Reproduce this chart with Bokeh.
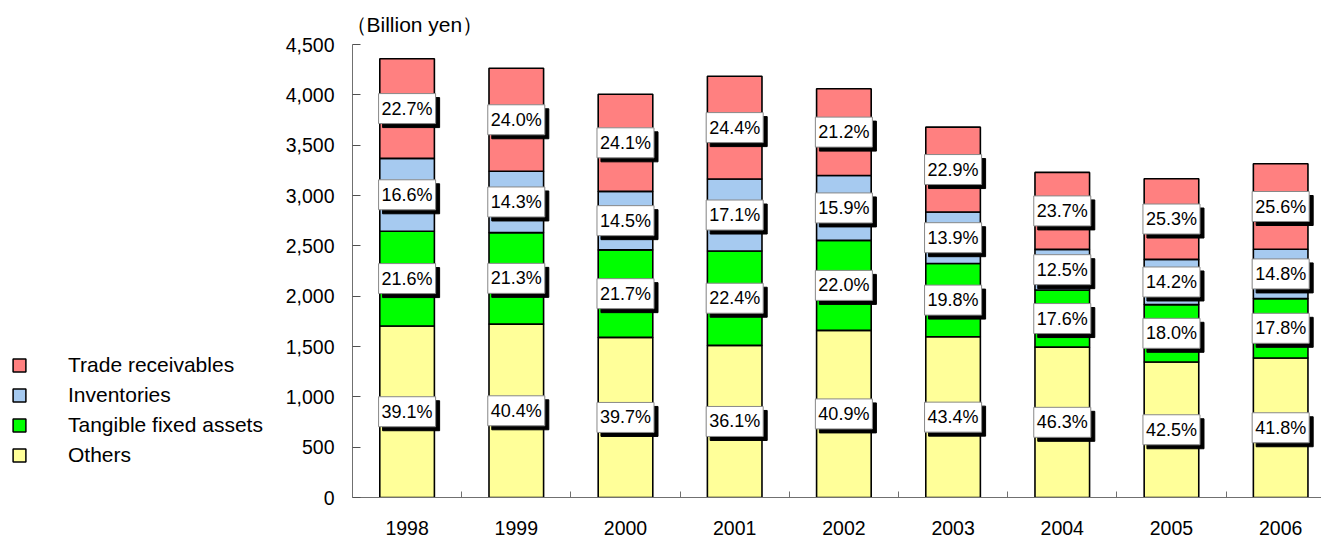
from bokeh.plotting import figure
from bokeh.layouts import row
from bokeh.models import (ColumnDataSource, Range1d, FixedTicker, NumeralTickFormatter,
                          Legend, LegendItem)
from bokeh.core.properties import value
from bokeh.embed import file_html
from bokeh.resources import INLINE

# ---- data ----
years = ["1998", "1999", "2000", "2001", "2002", "2003", "2004", "2005", "2006"]
totals = [4358, 4264, 4006, 4185, 4060, 3679, 3226, 3167, 3315]  # billion yen
others_pct = [39.1, 40.4, 39.7, 36.1, 40.9, 43.4, 46.3, 42.5, 41.8]
tangible_pct = [21.6, 21.3, 21.7, 22.4, 22.0, 19.8, 17.6, 18.0, 17.8]
inventories_pct = [16.6, 14.3, 14.5, 17.1, 15.9, 13.9, 12.5, 14.2, 14.8]
trade_pct = [22.7, 24.0, 24.1, 24.4, 21.2, 22.9, 23.7, 25.3, 25.6]

series = ["Others", "Tangible fixed assets", "Inventories", "Trade receivables"]
pcts = [others_pct, tangible_pct, inventories_pct, trade_pct]
colors = ["#FFFF99", "#00FF00", "#A6CAF0", "#FF8080"]
yticks = [0, 500, 1000, 1500, 2000, 2500, 3000, 3500, 4000, 4500]

FONT = "Liberation Sans"

xs = [i + 0.5 for i in range(len(years))]
data = {"x": xs}
for name, pct in zip(series, pcts):
    data[name] = [t * p / 100.0 for t, p in zip(totals, pct)]
source = ColumnDataSource(data)

LEG_W = 270
H = 536

p = figure(frame_width=969, frame_height=453,
           x_range=Range1d(0, len(years) - 0.126), y_range=Range1d(0, 4500),
           output_backend="svg", toolbar_location=None,
           min_border_left=352 - LEG_W, min_border_right=0, min_border_top=44,
           min_border_bottom=39,
           background_fill_color="white", border_fill_color="white")
p.outline_line_color = None
p.grid.visible = False

renderers = p.vbar_stack(series, x="x", width=0.5, source=source, color=colors,
                         line_color="black", line_width=1.6)

# percentage labels
lx, ly, lt = [], [], []
bottoms = [0.0] * len(years)
for name, pct in zip(series, pcts):
    vals = data[name]
    for i in range(len(years)):
        lx.append(xs[i])
        ly.append(bottoms[i] + vals[i] / 2.0)
        lt.append(f"{pct[i]:.1f}%")
        bottoms[i] += vals[i]
lsrc = ColumnDataSource(dict(x=lx, y=ly, t=lt))

pad = dict(left=3, right=3, top=5, bottom=5)
p.text(x="x", y="y", text="t", source=lsrc, x_offset=4, y_offset=4,
       text_align="center", text_baseline="middle",
       text_font=value(FONT), text_font_size="18px", text_color="black",
       background_fill_color="black", border_line_color="black", padding=pad)
p.text(x="x", y="y", text="t", source=lsrc,
       text_align="center", text_baseline="middle",
       text_font=value(FONT), text_font_size="18px", text_color="black",
       background_fill_color="white", border_line_color="#888888", border_line_width=1,
       padding=pad)

# axes
ax = p.xaxis[0]
ax.ticker = FixedTicker(ticks=xs, minor_ticks=[i for i in range(1, len(years))])
ax.major_label_overrides = {x: y for x, y in zip(xs, years)}
ax.major_tick_line_color = None
ax.minor_tick_in = 6
ax.minor_tick_out = 0
ax.minor_tick_line_color = "#707070"
ax.axis_line_color = "#707070"
ax.major_label_standoff = 17
ax.major_label_text_font = FONT
ax.major_label_text_font_size = "19.5px"
ax.major_label_text_color = "black"

ay = p.yaxis[0]
ay.ticker = FixedTicker(ticks=yticks)
ay.formatter = NumeralTickFormatter(format="0,0")
ay.major_tick_in = 8
ay.major_tick_out = 0
ay.minor_tick_line_color = None
ay.major_tick_line_color = "#505050"
ay.axis_line_color = "#707070"
ay.major_label_standoff = 18
ay.major_label_text_font = FONT
ay.major_label_text_font_size = "19.5px"
ay.major_label_text_color = "black"

# title
p.title.text = "（Billion yen）"
p.title.text_font = FONT
p.title.text_font_size = "21px"
p.title.text_font_style = "normal"
p.title.text_color = "black"
p.title.align = "left"
p.title.offset = -7
p.title.standoff = 18

# legend figure (left side)
pl = figure(width=LEG_W, height=H, x_range=Range1d(0, 1), y_range=Range1d(0, 1),
            output_backend="svg", toolbar_location=None, title=None,
            x_axis_location=None, y_axis_location=None,
            min_border_left=0, min_border_right=0, min_border_top=0, min_border_bottom=0,
            background_fill_color="white", border_fill_color="white")
pl.outline_line_color = None
pl.grid.visible = False
# legend swatches: renderers with a single undrawn (NaN) point, so only the legend shows them
nan = float("nan")
leg_renderers = [pl.vbar(x=[nan], top=[nan], width=0.5, fill_color=c, line_color="black",
                         line_width=1.5) for c in colors]
items = [LegendItem(label=name, renderers=[r]) for name, r in zip(series, leg_renderers)][::-1]
legend = Legend(items=items, location=(11, 29), glyph_width=16, glyph_height=16,
                label_height=24, label_standoff=41, spacing=6, padding=0, margin=0,
                border_line_color=None, background_fill_alpha=0,
                label_text_font=FONT, label_text_font_size="21px",
                label_text_color="black")
pl.add_layout(legend)

layout = row(pl, p, spacing=0)
open("out.html", "w").write(file_html(layout, INLINE))
